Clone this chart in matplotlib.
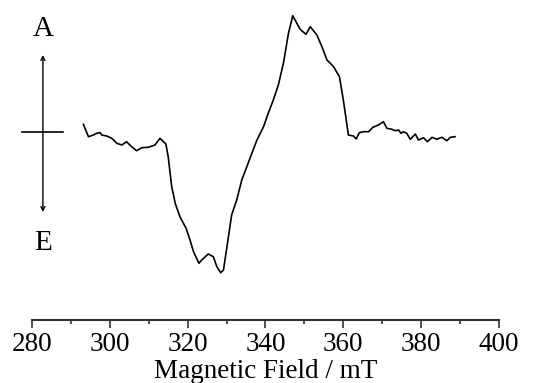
import matplotlib
matplotlib.use("Agg")
import matplotlib.pyplot as plt

field_mT = [293.2, 294.5, 295.8, 296.6, 297.5, 297.9, 299.2, 300.5, 301.8, 303.1,
            304.3, 305.6, 306.9, 308.2, 309.9, 311.6, 312.9, 314.4, 315.0, 315.9,
            316.8, 318.0, 319.6, 320.6, 321.5, 322.9, 323.6, 325.3, 326.6, 327.5,
            328.5, 329.2, 330.1, 331.3, 332.6, 333.9, 335.2, 336.5, 337.8, 339.5,
            340.7, 342.0, 343.3, 344.6, 345.9, 347.0, 348.9, 350.4, 351.5, 353.2,
            354.5, 355.8, 357.5, 359.0, 360.0, 361.3, 362.6, 363.3, 364.1, 365.2,
            366.5, 367.6, 369.0, 370.3, 371.2, 372.5, 373.3, 374.2, 374.8, 375.4,
            376.3, 377.2, 378.5, 379.3, 380.6, 381.6, 382.8, 384.0, 385.3, 386.6,
            387.5, 388.7]
signal = [10.7, -1.7, 0, 1.7, 2.3, 0, -1, -3.3, -8.3, -10,
          -6.7, -11.7, -15.7, -12.7, -12.3, -10, -3.3, -9, -21.7, -51.7,
          -68.3, -81.7, -93.3, -105, -116.7, -128.3, -125, -119, -121.7, -131.7,
          -137.7, -135, -111.7, -80, -65, -45, -31.7, -18.3, -5, 8.3,
          21.7, 35, 50, 71.7, 101.7, 119.3, 105.7, 100.7, 108.3, 100,
          88.3, 75, 68.3, 58.3, 35, 0, -1, -4, 2.3, 3.3,
          3.3, 7.7, 10, 13.3, 6.7, 5.7, 4.3, 5, 1.7, 3.3,
          1.7, -4.3, 1, -5, -2.7, -6.7, -2.3, -4.3, -2.3, -5.7,
          -2.3, -1.7]
xticks = [280, 300, 320, 340, 360, 380, 400]
xlabel = "Magnetic Field / mT"

plt.rcParams['font.family'] = ['Liberation Serif', 'DejaVu Serif']

fig = plt.figure(figsize=(5.34, 3.83), dpi=100)
ax = fig.add_axes([32/534, (383-320)/383, 467/534, 320/383])
ax.plot(field_mT, signal, color='black', lw=1.2)
ax.set_xlim(280, 400)
ax.set_ylim(-185, 135)
ax.set_xticks(xticks)
ax.set_xticks(range(290, 400, 20), minor=True)
ax.tick_params(axis='x', which='major', length=6, width=1.2, labelsize=19.5, pad=2.5, color='#333333')
ax.tick_params(axis='x', which='minor', length=3, width=1.2, color='#333333')
ax.set_yticks([])
for s in ['left', 'right', 'top']:
    ax.spines[s].set_visible(False)
ax.spines['bottom'].set_linewidth(1.5)
ax.spines['bottom'].set_color('#333333')
ax.set_xlabel(xlabel, fontsize=19.5, labelpad=1.5)

# intensity indicator (A = absorption, E = emission)
ax.annotate('', xy=(282.8, 80), xytext=(282.8, -77),
            arrowprops=dict(arrowstyle='<->', lw=1.0, color='black', mutation_scale=7,
                            shrinkA=0, shrinkB=0), annotation_clip=False)
ax.plot([277.4, 288.0], [3.5, 3.5], color='black', lw=1.2, clip_on=False)
ax.text(282.8, 106, 'A', ha='center', va='center', fontsize=21)
ax.text(282.8, -108, 'E', ha='center', va='center', fontsize=21)

fig.savefig('out.png', dpi=100)
